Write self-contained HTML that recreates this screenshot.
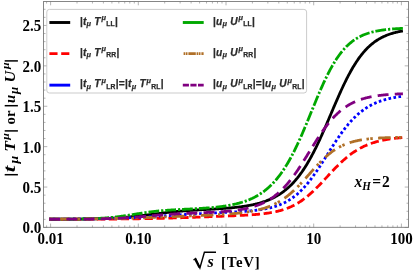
<!DOCTYPE html>
<html><head><meta charset="utf-8"><title>plot</title>
<style>
html,body{margin:0;padding:0;background:#fff;}
body{width:413px;height:271px;overflow:hidden;}
svg{display:block;will-change:transform;}
.tk{font-family:"Liberation Serif",serif;font-weight:bold;font-size:15px;fill:#000;}
.lg{font-family:"Liberation Sans",sans-serif;font-weight:bold;font-style:italic;font-size:10.2px;letter-spacing:0.22px;fill:#2a2a2a;stroke:#2a2a2a;stroke-width:0.25px;}
.lg .sb{font-style:normal;font-weight:bold;font-size:6.8px;}
.lg .mu{font-size:7.4px;}
.lg .up{font-style:normal;}
</style></head><body>
<svg width="413" height="271" viewBox="0 0 413 271">
<rect width="413" height="271" fill="#fff"/>

<g fill="none" stroke-width="2.8" stroke-linejoin="round">
<path d="M49.20,219.25 L49.91,219.25 L50.62,219.25 L51.33,219.24 L52.04,219.24 L52.74,219.24 L53.45,219.24 L54.16,219.24 L54.87,219.23 L55.58,219.23 L56.29,219.23 L57.00,219.23 L57.71,219.22 L58.41,219.22 L59.12,219.22 L59.83,219.21 L60.54,219.21 L61.25,219.21 L61.96,219.20 L62.67,219.20 L63.38,219.20 L64.09,219.19 L64.79,219.19 L65.50,219.19 L66.21,219.18 L66.92,219.18 L67.63,219.17 L68.34,219.17 L69.05,219.16 L69.76,219.16 L70.46,219.15 L71.17,219.15 L71.88,219.14 L72.59,219.14 L73.30,219.13 L74.01,219.12 L74.72,219.12 L75.43,219.11 L76.14,219.10 L76.84,219.10 L77.55,219.09 L78.26,219.08 L78.97,219.07 L79.68,219.07 L80.39,219.06 L81.10,219.05 L81.81,219.04 L82.51,219.03 L83.22,219.02 L83.93,219.01 L84.64,219.00 L85.35,218.99 L86.06,218.98 L86.77,218.97 L87.48,218.95 L88.18,218.94 L88.89,218.93 L89.60,218.92 L90.31,218.90 L91.02,218.89 L91.73,218.87 L92.44,218.86 L93.15,218.84 L93.86,218.83 L94.56,218.81 L95.27,218.79 L95.98,218.77 L96.69,218.76 L97.40,218.74 L98.11,218.72 L98.82,218.70 L99.53,218.68 L100.23,218.65 L100.94,218.63 L101.65,218.61 L102.36,218.59 L103.07,218.56 L103.78,218.54 L104.49,218.51 L105.20,218.48 L105.91,218.46 L106.61,218.43 L107.32,218.40 L108.03,218.37 L108.74,218.34 L109.45,218.30 L110.16,218.27 L110.87,218.24 L111.58,218.20 L112.28,218.17 L112.99,218.13 L113.70,218.09 L114.41,218.05 L115.12,218.01 L115.83,217.97 L116.54,217.93 L117.25,217.88 L117.96,217.84 L118.66,217.79 L119.37,217.74 L120.08,217.70 L120.79,217.65 L121.50,217.60 L122.21,217.54 L122.92,217.49 L123.63,217.44 L124.33,217.38 L125.04,217.32 L125.75,217.27 L126.46,217.21 L127.17,217.15 L127.88,217.08 L128.59,217.02 L129.30,216.96 L130.01,216.89 L130.71,216.82 L131.42,216.75 L132.13,216.68 L132.84,216.61 L133.55,216.54 L134.26,216.47 L134.97,216.40 L135.68,216.32 L136.38,216.24 L137.09,216.17 L137.80,216.09 L138.51,216.01 L139.22,215.93 L139.93,215.85 L140.64,215.76 L141.35,215.68 L142.06,215.60 L142.76,215.51 L143.47,215.43 L144.18,215.34 L144.89,215.25 L145.60,215.16 L146.31,215.08 L147.02,214.99 L147.73,214.90 L148.43,214.81 L149.14,214.72 L149.85,214.63 L150.56,214.54 L151.27,214.45 L151.98,214.36 L152.69,214.27 L153.40,214.18 L154.11,214.09 L154.81,214.00 L155.52,213.91 L156.23,213.82 L156.94,213.73 L157.65,213.64 L158.36,213.55 L159.07,213.46 L159.78,213.37 L160.48,213.28 L161.19,213.20 L161.90,213.11 L162.61,213.02 L163.32,212.94 L164.03,212.86 L164.74,212.77 L165.45,212.69 L166.15,212.61 L166.86,212.53 L167.57,212.45 L168.28,212.37 L168.99,212.29 L169.70,212.21 L170.41,212.14 L171.12,212.06 L171.83,211.99 L172.53,211.92 L173.24,211.84 L173.95,211.77 L174.66,211.70 L175.37,211.64 L176.08,211.57 L176.79,211.50 L177.50,211.44 L178.20,211.37 L178.91,211.31 L179.62,211.25 L180.33,211.19 L181.04,211.13 L181.75,211.07 L182.46,211.01 L183.17,210.95 L183.88,210.90 L184.58,210.84 L185.29,210.79 L186.00,210.73 L186.71,210.68 L187.42,210.63 L188.13,210.58 L188.84,210.53 L189.55,210.48 L190.25,210.43 L190.96,210.38 L191.67,210.34 L192.38,210.29 L193.09,210.25 L193.80,210.20 L194.51,210.16 L195.22,210.11 L195.93,210.07 L196.63,210.03 L197.34,209.99 L198.05,209.94 L198.76,209.90 L199.47,209.86 L200.18,209.82 L200.89,209.78 L201.60,209.74 L202.30,209.70 L203.01,209.66 L203.72,209.62 L204.43,209.58 L205.14,209.54 L205.85,209.50 L206.56,209.47 L207.27,209.43 L207.98,209.39 L208.68,209.35 L209.39,209.31 L210.10,209.27 L210.81,209.23 L211.52,209.19 L212.23,209.15 L212.94,209.11 L213.65,209.07 L214.35,209.03 L215.06,208.98 L215.77,208.94 L216.48,208.90 L217.19,208.86 L217.90,208.81 L218.61,208.77 L219.32,208.72 L220.03,208.68 L220.73,208.63 L221.44,208.58 L222.15,208.53 L222.86,208.49 L223.57,208.44 L224.28,208.38 L224.99,208.33 L225.70,208.28 L226.40,208.22 L227.11,208.17 L227.82,208.11 L228.53,208.05 L229.24,207.99 L229.95,207.93 L230.66,207.87 L231.37,207.80 L232.07,207.74 L232.78,207.67 L233.49,207.60 L234.20,207.53 L234.91,207.46 L235.62,207.38 L236.33,207.31 L237.04,207.23 L237.75,207.15 L238.45,207.06 L239.16,206.98 L239.87,206.89 L240.58,206.80 L241.29,206.70 L242.00,206.61 L242.71,206.51 L243.42,206.41 L244.12,206.30 L244.83,206.19 L245.54,206.08 L246.25,205.97 L246.96,205.85 L247.67,205.73 L248.38,205.61 L249.09,205.48 L249.80,205.35 L250.50,205.21 L251.21,205.07 L251.92,204.93 L252.63,204.78 L253.34,204.63 L254.05,204.47 L254.76,204.31 L255.47,204.14 L256.17,203.97 L256.88,203.79 L257.59,203.61 L258.30,203.42 L259.01,203.23 L259.72,203.03 L260.43,202.82 L261.14,202.61 L261.85,202.40 L262.55,202.17 L263.26,201.94 L263.97,201.70 L264.68,201.46 L265.39,201.21 L266.10,200.95 L266.81,200.68 L267.52,200.40 L268.22,200.12 L268.93,199.83 L269.64,199.53 L270.35,199.22 L271.06,198.90 L271.77,198.57 L272.48,198.23 L273.19,197.89 L273.90,197.53 L274.60,197.16 L275.31,196.78 L276.02,196.39 L276.73,195.99 L277.44,195.58 L278.15,195.16 L278.86,194.72 L279.57,194.27 L280.27,193.81 L280.98,193.34 L281.69,192.85 L282.40,192.35 L283.11,191.83 L283.82,191.30 L284.53,190.76 L285.24,190.20 L285.95,189.62 L286.65,189.03 L287.36,188.43 L288.07,187.80 L288.78,187.16 L289.49,186.51 L290.20,185.83 L290.91,185.14 L291.62,184.43 L292.32,183.71 L293.03,182.96 L293.74,182.20 L294.45,181.41 L295.16,180.61 L295.87,179.78 L296.58,178.94 L297.29,178.08 L297.99,177.19 L298.70,176.29 L299.41,175.36 L300.12,174.41 L300.83,173.45 L301.54,172.46 L302.25,171.44 L302.96,170.41 L303.67,169.35 L304.37,168.27 L305.08,167.17 L305.79,166.05 L306.50,164.90 L307.21,163.73 L307.92,162.54 L308.63,161.33 L309.34,160.09 L310.04,158.84 L310.75,157.56 L311.46,156.26 L312.17,154.93 L312.88,153.59 L313.59,152.23 L314.30,150.84 L315.01,149.43 L315.72,148.01 L316.42,146.56 L317.13,145.10 L317.84,143.62 L318.55,142.12 L319.26,140.60 L319.97,139.07 L320.68,137.52 L321.39,135.96 L322.09,134.39 L322.80,132.80 L323.51,131.20 L324.22,129.58 L324.93,127.96 L325.64,126.33 L326.35,124.69 L327.06,123.04 L327.77,121.38 L328.47,119.72 L329.18,118.06 L329.89,116.39 L330.60,114.73 L331.31,113.06 L332.02,111.39 L332.73,109.72 L333.44,108.06 L334.14,106.40 L334.85,104.75 L335.56,103.10 L336.27,101.46 L336.98,99.83 L337.69,98.21 L338.40,96.60 L339.11,95.00 L339.82,93.41 L340.52,91.84 L341.23,90.29 L341.94,88.75 L342.65,87.22 L343.36,85.72 L344.07,84.23 L344.78,82.76 L345.49,81.31 L346.19,79.88 L346.90,78.47 L347.61,77.09 L348.32,75.72 L349.03,74.38 L349.74,73.06 L350.45,71.77 L351.16,70.50 L351.87,69.25 L352.57,68.03 L353.28,66.84 L353.99,65.66 L354.70,64.52 L355.41,63.40 L356.12,62.30 L356.83,61.23 L357.54,60.18 L358.24,59.16 L358.95,58.16 L359.66,57.19 L360.37,56.24 L361.08,55.32 L361.79,54.42 L362.50,53.54 L363.21,52.69 L363.92,51.86 L364.62,51.05 L365.33,50.27 L366.04,49.51 L366.75,48.77 L367.46,48.05 L368.17,47.36 L368.88,46.68 L369.59,46.03 L370.29,45.39 L371.00,44.77 L371.71,44.18 L372.42,43.60 L373.13,43.04 L373.84,42.50 L374.55,41.97 L375.26,41.47 L375.96,40.98 L376.67,40.50 L377.38,40.04 L378.09,39.60 L378.80,39.17 L379.51,38.75 L380.22,38.35 L380.93,37.97 L381.64,37.59 L382.34,37.23 L383.05,36.88 L383.76,36.55 L384.47,36.22 L385.18,35.91 L385.89,35.61 L386.60,35.32 L387.31,35.04 L388.01,34.77 L388.72,34.51 L389.43,34.25 L390.14,34.01 L390.85,33.78 L391.56,33.55 L392.27,33.34 L392.98,33.13 L393.69,32.92 L394.39,32.73 L395.10,32.54 L395.81,32.36 L396.52,32.19 L397.23,32.02 L397.94,31.86 L398.65,31.71 L399.36,31.56 L400.06,31.42 L400.77,31.28 L401.48,31.14 L402.19,31.02 L402.90,30.89" stroke="#000000"/>
<path d="M49.20,219.26 L49.91,219.26 L50.62,219.26 L51.33,219.26 L52.04,219.26 L52.74,219.26 L53.45,219.26 L54.16,219.26 L54.87,219.25 L55.58,219.25 L56.29,219.25 L57.00,219.25 L57.71,219.25 L58.41,219.25 L59.12,219.25 L59.83,219.25 L60.54,219.25 L61.25,219.24 L61.96,219.24 L62.67,219.24 L63.38,219.24 L64.09,219.24 L64.79,219.24 L65.50,219.24 L66.21,219.24 L66.92,219.23 L67.63,219.23 L68.34,219.23 L69.05,219.23 L69.76,219.23 L70.46,219.23 L71.17,219.23 L71.88,219.22 L72.59,219.22 L73.30,219.22 L74.01,219.22 L74.72,219.22 L75.43,219.21 L76.14,219.21 L76.84,219.21 L77.55,219.21 L78.26,219.21 L78.97,219.20 L79.68,219.20 L80.39,219.20 L81.10,219.20 L81.81,219.20 L82.51,219.19 L83.22,219.19 L83.93,219.19 L84.64,219.19 L85.35,219.18 L86.06,219.18 L86.77,219.18 L87.48,219.18 L88.18,219.17 L88.89,219.17 L89.60,219.17 L90.31,219.16 L91.02,219.16 L91.73,219.16 L92.44,219.16 L93.15,219.15 L93.86,219.15 L94.56,219.15 L95.27,219.14 L95.98,219.14 L96.69,219.14 L97.40,219.13 L98.11,219.13 L98.82,219.13 L99.53,219.12 L100.23,219.12 L100.94,219.11 L101.65,219.11 L102.36,219.11 L103.07,219.10 L103.78,219.10 L104.49,219.09 L105.20,219.09 L105.91,219.08 L106.61,219.08 L107.32,219.07 L108.03,219.07 L108.74,219.06 L109.45,219.06 L110.16,219.05 L110.87,219.05 L111.58,219.04 L112.28,219.04 L112.99,219.03 L113.70,219.03 L114.41,219.02 L115.12,219.02 L115.83,219.01 L116.54,219.00 L117.25,219.00 L117.96,218.99 L118.66,218.98 L119.37,218.98 L120.08,218.97 L120.79,218.96 L121.50,218.96 L122.21,218.95 L122.92,218.94 L123.63,218.94 L124.33,218.93 L125.04,218.92 L125.75,218.91 L126.46,218.90 L127.17,218.90 L127.88,218.89 L128.59,218.88 L129.30,218.87 L130.01,218.86 L130.71,218.85 L131.42,218.84 L132.13,218.83 L132.84,218.83 L133.55,218.82 L134.26,218.81 L134.97,218.80 L135.68,218.79 L136.38,218.78 L137.09,218.77 L137.80,218.76 L138.51,218.74 L139.22,218.73 L139.93,218.72 L140.64,218.71 L141.35,218.70 L142.06,218.69 L142.76,218.68 L143.47,218.66 L144.18,218.65 L144.89,218.64 L145.60,218.63 L146.31,218.61 L147.02,218.60 L147.73,218.59 L148.43,218.57 L149.14,218.56 L149.85,218.55 L150.56,218.53 L151.27,218.52 L151.98,218.50 L152.69,218.49 L153.40,218.47 L154.11,218.46 L154.81,218.44 L155.52,218.43 L156.23,218.41 L156.94,218.40 L157.65,218.38 L158.36,218.36 L159.07,218.35 L159.78,218.33 L160.48,218.31 L161.19,218.30 L161.90,218.28 L162.61,218.26 L163.32,218.24 L164.03,218.22 L164.74,218.21 L165.45,218.19 L166.15,218.17 L166.86,218.15 L167.57,218.13 L168.28,218.11 L168.99,218.09 L169.70,218.07 L170.41,218.05 L171.12,218.03 L171.83,218.01 L172.53,217.99 L173.24,217.97 L173.95,217.95 L174.66,217.93 L175.37,217.91 L176.08,217.88 L176.79,217.86 L177.50,217.84 L178.20,217.82 L178.91,217.80 L179.62,217.77 L180.33,217.75 L181.04,217.73 L181.75,217.70 L182.46,217.68 L183.17,217.66 L183.88,217.63 L184.58,217.61 L185.29,217.59 L186.00,217.56 L186.71,217.54 L187.42,217.52 L188.13,217.49 L188.84,217.47 L189.55,217.44 L190.25,217.42 L190.96,217.39 L191.67,217.37 L192.38,217.34 L193.09,217.32 L193.80,217.29 L194.51,217.27 L195.22,217.24 L195.93,217.22 L196.63,217.19 L197.34,217.16 L198.05,217.14 L198.76,217.11 L199.47,217.09 L200.18,217.06 L200.89,217.03 L201.60,217.01 L202.30,216.98 L203.01,216.96 L203.72,216.93 L204.43,216.90 L205.14,216.88 L205.85,216.85 L206.56,216.82 L207.27,216.80 L207.98,216.77 L208.68,216.74 L209.39,216.72 L210.10,216.69 L210.81,216.66 L211.52,216.64 L212.23,216.61 L212.94,216.58 L213.65,216.56 L214.35,216.53 L215.06,216.50 L215.77,216.48 L216.48,216.45 L217.19,216.42 L217.90,216.39 L218.61,216.37 L219.32,216.34 L220.03,216.31 L220.73,216.28 L221.44,216.26 L222.15,216.23 L222.86,216.20 L223.57,216.17 L224.28,216.15 L224.99,216.12 L225.70,216.09 L226.40,216.06 L227.11,216.03 L227.82,216.00 L228.53,215.97 L229.24,215.95 L229.95,215.92 L230.66,215.89 L231.37,215.86 L232.07,215.83 L232.78,215.80 L233.49,215.77 L234.20,215.73 L234.91,215.70 L235.62,215.67 L236.33,215.64 L237.04,215.61 L237.75,215.57 L238.45,215.54 L239.16,215.51 L239.87,215.47 L240.58,215.44 L241.29,215.40 L242.00,215.36 L242.71,215.33 L243.42,215.29 L244.12,215.25 L244.83,215.21 L245.54,215.17 L246.25,215.13 L246.96,215.09 L247.67,215.05 L248.38,215.00 L249.09,214.96 L249.80,214.91 L250.50,214.86 L251.21,214.81 L251.92,214.76 L252.63,214.71 L253.34,214.66 L254.05,214.60 L254.76,214.55 L255.47,214.49 L256.17,214.43 L256.88,214.37 L257.59,214.31 L258.30,214.24 L259.01,214.17 L259.72,214.10 L260.43,214.03 L261.14,213.96 L261.85,213.88 L262.55,213.80 L263.26,213.72 L263.97,213.63 L264.68,213.54 L265.39,213.45 L266.10,213.36 L266.81,213.26 L267.52,213.16 L268.22,213.05 L268.93,212.95 L269.64,212.83 L270.35,212.72 L271.06,212.59 L271.77,212.47 L272.48,212.34 L273.19,212.20 L273.90,212.07 L274.60,211.92 L275.31,211.77 L276.02,211.62 L276.73,211.45 L277.44,211.29 L278.15,211.12 L278.86,210.94 L279.57,210.75 L280.27,210.56 L280.98,210.36 L281.69,210.16 L282.40,209.94 L283.11,209.72 L283.82,209.49 L284.53,209.26 L285.24,209.01 L285.95,208.76 L286.65,208.50 L287.36,208.23 L288.07,207.95 L288.78,207.67 L289.49,207.37 L290.20,207.06 L290.91,206.75 L291.62,206.42 L292.32,206.09 L293.03,205.74 L293.74,205.38 L294.45,205.02 L295.16,204.64 L295.87,204.25 L296.58,203.85 L297.29,203.44 L297.99,203.02 L298.70,202.58 L299.41,202.14 L300.12,201.68 L300.83,201.21 L301.54,200.73 L302.25,200.24 L302.96,199.73 L303.67,199.22 L304.37,198.69 L305.08,198.15 L305.79,197.60 L306.50,197.03 L307.21,196.46 L307.92,195.87 L308.63,195.28 L309.34,194.67 L310.04,194.05 L310.75,193.42 L311.46,192.78 L312.17,192.13 L312.88,191.47 L313.59,190.80 L314.30,190.13 L315.01,189.44 L315.72,188.74 L316.42,188.04 L317.13,187.33 L317.84,186.61 L318.55,185.89 L319.26,185.16 L319.97,184.42 L320.68,183.68 L321.39,182.93 L322.09,182.18 L322.80,181.42 L323.51,180.66 L324.22,179.90 L324.93,179.14 L325.64,178.38 L326.35,177.61 L327.06,176.85 L327.77,176.08 L328.47,175.32 L329.18,174.55 L329.89,173.79 L330.60,173.03 L331.31,172.28 L332.02,171.52 L332.73,170.77 L333.44,170.03 L334.14,169.29 L334.85,168.56 L335.56,167.83 L336.27,167.10 L336.98,166.39 L337.69,165.68 L338.40,164.98 L339.11,164.29 L339.82,163.60 L340.52,162.93 L341.23,162.26 L341.94,161.60 L342.65,160.95 L343.36,160.31 L344.07,159.68 L344.78,159.07 L345.49,158.46 L346.19,157.86 L346.90,157.27 L347.61,156.69 L348.32,156.12 L349.03,155.57 L349.74,155.02 L350.45,154.49 L351.16,153.97 L351.87,153.45 L352.57,152.95 L353.28,152.46 L353.99,151.98 L354.70,151.51 L355.41,151.05 L356.12,150.61 L356.83,150.17 L357.54,149.74 L358.24,149.33 L358.95,148.92 L359.66,148.53 L360.37,148.14 L361.08,147.77 L361.79,147.40 L362.50,147.04 L363.21,146.70 L363.92,146.36 L364.62,146.03 L365.33,145.72 L366.04,145.41 L366.75,145.10 L367.46,144.81 L368.17,144.53 L368.88,144.25 L369.59,143.98 L370.29,143.72 L371.00,143.47 L371.71,143.23 L372.42,142.99 L373.13,142.76 L373.84,142.54 L374.55,142.32 L375.26,142.11 L375.96,141.91 L376.67,141.71 L377.38,141.52 L378.09,141.33 L378.80,141.15 L379.51,140.98 L380.22,140.81 L380.93,140.65 L381.64,140.49 L382.34,140.34 L383.05,140.19 L383.76,140.05 L384.47,139.91 L385.18,139.78 L385.89,139.65 L386.60,139.52 L387.31,139.40 L388.01,139.29 L388.72,139.17 L389.43,139.07 L390.14,138.96 L390.85,138.86 L391.56,138.76 L392.27,138.66 L392.98,138.57 L393.69,138.48 L394.39,138.40 L395.10,138.31 L395.81,138.23 L396.52,138.16 L397.23,138.08 L397.94,138.01 L398.65,137.94 L399.36,137.87 L400.06,137.81 L400.77,137.74 L401.48,137.68 L402.19,137.63 L402.90,137.57" stroke="#ff0000" stroke-dasharray="8.3 3.62" stroke-dashoffset="0"/>
<path d="M49.20,219.17 L49.91,219.17 L50.62,219.16 L51.33,219.16 L52.04,219.16 L52.74,219.15 L53.45,219.15 L54.16,219.15 L54.87,219.14 L55.58,219.14 L56.29,219.13 L57.00,219.13 L57.71,219.13 L58.41,219.12 L59.12,219.12 L59.83,219.11 L60.54,219.11 L61.25,219.11 L61.96,219.10 L62.67,219.10 L63.38,219.09 L64.09,219.09 L64.79,219.08 L65.50,219.08 L66.21,219.07 L66.92,219.07 L67.63,219.06 L68.34,219.06 L69.05,219.05 L69.76,219.04 L70.46,219.04 L71.17,219.03 L71.88,219.03 L72.59,219.02 L73.30,219.01 L74.01,219.01 L74.72,219.00 L75.43,218.99 L76.14,218.99 L76.84,218.98 L77.55,218.97 L78.26,218.96 L78.97,218.96 L79.68,218.95 L80.39,218.94 L81.10,218.93 L81.81,218.92 L82.51,218.91 L83.22,218.91 L83.93,218.90 L84.64,218.89 L85.35,218.88 L86.06,218.87 L86.77,218.86 L87.48,218.85 L88.18,218.84 L88.89,218.83 L89.60,218.82 L90.31,218.81 L91.02,218.80 L91.73,218.78 L92.44,218.77 L93.15,218.76 L93.86,218.75 L94.56,218.74 L95.27,218.72 L95.98,218.71 L96.69,218.70 L97.40,218.69 L98.11,218.67 L98.82,218.66 L99.53,218.64 L100.23,218.63 L100.94,218.62 L101.65,218.60 L102.36,218.58 L103.07,218.57 L103.78,218.55 L104.49,218.54 L105.20,218.52 L105.91,218.50 L106.61,218.49 L107.32,218.47 L108.03,218.45 L108.74,218.43 L109.45,218.42 L110.16,218.40 L110.87,218.38 L111.58,218.36 L112.28,218.34 L112.99,218.32 L113.70,218.30 L114.41,218.28 L115.12,218.26 L115.83,218.23 L116.54,218.21 L117.25,218.19 L117.96,218.17 L118.66,218.14 L119.37,218.12 L120.08,218.10 L120.79,218.07 L121.50,218.05 L122.21,218.02 L122.92,218.00 L123.63,217.97 L124.33,217.94 L125.04,217.92 L125.75,217.89 L126.46,217.86 L127.17,217.84 L127.88,217.81 L128.59,217.78 L129.30,217.75 L130.01,217.72 L130.71,217.69 L131.42,217.66 L132.13,217.63 L132.84,217.60 L133.55,217.57 L134.26,217.53 L134.97,217.50 L135.68,217.47 L136.38,217.43 L137.09,217.40 L137.80,217.37 L138.51,217.33 L139.22,217.30 L139.93,217.26 L140.64,217.23 L141.35,217.19 L142.06,217.15 L142.76,217.12 L143.47,217.08 L144.18,217.04 L144.89,217.00 L145.60,216.96 L146.31,216.93 L147.02,216.89 L147.73,216.85 L148.43,216.81 L149.14,216.77 L149.85,216.73 L150.56,216.69 L151.27,216.64 L151.98,216.60 L152.69,216.56 L153.40,216.52 L154.11,216.48 L154.81,216.43 L155.52,216.39 L156.23,216.35 L156.94,216.30 L157.65,216.26 L158.36,216.22 L159.07,216.17 L159.78,216.13 L160.48,216.08 L161.19,216.04 L161.90,215.99 L162.61,215.95 L163.32,215.90 L164.03,215.86 L164.74,215.81 L165.45,215.77 L166.15,215.72 L166.86,215.68 L167.57,215.63 L168.28,215.58 L168.99,215.54 L169.70,215.49 L170.41,215.45 L171.12,215.40 L171.83,215.35 L172.53,215.31 L173.24,215.26 L173.95,215.22 L174.66,215.17 L175.37,215.13 L176.08,215.08 L176.79,215.03 L177.50,214.99 L178.20,214.94 L178.91,214.90 L179.62,214.85 L180.33,214.81 L181.04,214.76 L181.75,214.72 L182.46,214.67 L183.17,214.63 L183.88,214.58 L184.58,214.54 L185.29,214.49 L186.00,214.45 L186.71,214.41 L187.42,214.36 L188.13,214.32 L188.84,214.28 L189.55,214.23 L190.25,214.19 L190.96,214.15 L191.67,214.11 L192.38,214.07 L193.09,214.02 L193.80,213.98 L194.51,213.94 L195.22,213.90 L195.93,213.86 L196.63,213.82 L197.34,213.78 L198.05,213.74 L198.76,213.70 L199.47,213.66 L200.18,213.63 L200.89,213.59 L201.60,213.55 L202.30,213.51 L203.01,213.47 L203.72,213.44 L204.43,213.40 L205.14,213.36 L205.85,213.33 L206.56,213.29 L207.27,213.25 L207.98,213.22 L208.68,213.18 L209.39,213.15 L210.10,213.11 L210.81,213.08 L211.52,213.04 L212.23,213.01 L212.94,212.97 L213.65,212.94 L214.35,212.91 L215.06,212.87 L215.77,212.84 L216.48,212.81 L217.19,212.77 L217.90,212.74 L218.61,212.71 L219.32,212.67 L220.03,212.64 L220.73,212.61 L221.44,212.57 L222.15,212.54 L222.86,212.51 L223.57,212.47 L224.28,212.44 L224.99,212.41 L225.70,212.37 L226.40,212.34 L227.11,212.31 L227.82,212.27 L228.53,212.24 L229.24,212.20 L229.95,212.17 L230.66,212.13 L231.37,212.10 L232.07,212.06 L232.78,212.03 L233.49,211.99 L234.20,211.95 L234.91,211.91 L235.62,211.88 L236.33,211.84 L237.04,211.80 L237.75,211.76 L238.45,211.72 L239.16,211.67 L239.87,211.63 L240.58,211.59 L241.29,211.54 L242.00,211.50 L242.71,211.45 L243.42,211.40 L244.12,211.35 L244.83,211.30 L245.54,211.25 L246.25,211.20 L246.96,211.14 L247.67,211.08 L248.38,211.03 L249.09,210.97 L249.80,210.90 L250.50,210.84 L251.21,210.77 L251.92,210.71 L252.63,210.64 L253.34,210.56 L254.05,210.49 L254.76,210.41 L255.47,210.33 L256.17,210.25 L256.88,210.16 L257.59,210.07 L258.30,209.98 L259.01,209.89 L259.72,209.79 L260.43,209.69 L261.14,209.58 L261.85,209.47 L262.55,209.36 L263.26,209.24 L263.97,209.11 L264.68,208.99 L265.39,208.86 L266.10,208.72 L266.81,208.58 L267.52,208.43 L268.22,208.28 L268.93,208.12 L269.64,207.95 L270.35,207.78 L271.06,207.61 L271.77,207.42 L272.48,207.23 L273.19,207.03 L273.90,206.83 L274.60,206.62 L275.31,206.40 L276.02,206.17 L276.73,205.93 L277.44,205.69 L278.15,205.43 L278.86,205.17 L279.57,204.90 L280.27,204.61 L280.98,204.32 L281.69,204.02 L282.40,203.70 L283.11,203.38 L283.82,203.04 L284.53,202.69 L285.24,202.34 L285.95,201.96 L286.65,201.58 L287.36,201.18 L288.07,200.77 L288.78,200.35 L289.49,199.91 L290.20,199.46 L290.91,198.99 L291.62,198.51 L292.32,198.02 L293.03,197.51 L293.74,196.98 L294.45,196.44 L295.16,195.89 L295.87,195.31 L296.58,194.72 L297.29,194.12 L297.99,193.50 L298.70,192.86 L299.41,192.20 L300.12,191.53 L300.83,190.84 L301.54,190.13 L302.25,189.41 L302.96,188.67 L303.67,187.91 L304.37,187.13 L305.08,186.34 L305.79,185.53 L306.50,184.70 L307.21,183.86 L307.92,183.00 L308.63,182.12 L309.34,181.23 L310.04,180.32 L310.75,179.40 L311.46,178.46 L312.17,177.50 L312.88,176.53 L313.59,175.55 L314.30,174.55 L315.01,173.54 L315.72,172.52 L316.42,171.49 L317.13,170.44 L317.84,169.38 L318.55,168.32 L319.26,167.24 L319.97,166.16 L320.68,165.07 L321.39,163.97 L322.09,162.86 L322.80,161.75 L323.51,160.63 L324.22,159.51 L324.93,158.38 L325.64,157.26 L326.35,156.13 L327.06,155.00 L327.77,153.87 L328.47,152.74 L329.18,151.61 L329.89,150.48 L330.60,149.36 L331.31,148.24 L332.02,147.13 L332.73,146.02 L333.44,144.91 L334.14,143.82 L334.85,142.73 L335.56,141.65 L336.27,140.58 L336.98,139.52 L337.69,138.46 L338.40,137.42 L339.11,136.39 L339.82,135.38 L340.52,134.37 L341.23,133.38 L341.94,132.40 L342.65,131.43 L343.36,130.48 L344.07,129.54 L344.78,128.62 L345.49,127.71 L346.19,126.81 L346.90,125.93 L347.61,125.07 L348.32,124.22 L349.03,123.39 L349.74,122.58 L350.45,121.78 L351.16,120.99 L351.87,120.23 L352.57,119.47 L353.28,118.74 L353.99,118.02 L354.70,117.32 L355.41,116.63 L356.12,115.96 L356.83,115.30 L357.54,114.66 L358.24,114.03 L358.95,113.43 L359.66,112.83 L360.37,112.25 L361.08,111.69 L361.79,111.14 L362.50,110.60 L363.21,110.08 L363.92,109.57 L364.62,109.08 L365.33,108.60 L366.04,108.13 L366.75,107.68 L367.46,107.23 L368.17,106.81 L368.88,106.39 L369.59,105.98 L370.29,105.59 L371.00,105.21 L371.71,104.84 L372.42,104.48 L373.13,104.13 L373.84,103.79 L374.55,103.47 L375.26,103.15 L375.96,102.84 L376.67,102.54 L377.38,102.25 L378.09,101.97 L378.80,101.70 L379.51,101.44 L380.22,101.18 L380.93,100.94 L381.64,100.70 L382.34,100.47 L383.05,100.24 L383.76,100.03 L384.47,99.82 L385.18,99.61 L385.89,99.42 L386.60,99.23 L387.31,99.05 L388.01,98.87 L388.72,98.70 L389.43,98.53 L390.14,98.37 L390.85,98.22 L391.56,98.07 L392.27,97.92 L392.98,97.78 L393.69,97.65 L394.39,97.51 L395.10,97.39 L395.81,97.27 L396.52,97.15 L397.23,97.03 L397.94,96.92 L398.65,96.82 L399.36,96.72 L400.06,96.62 L400.77,96.52 L401.48,96.43 L402.19,96.34 L402.90,96.25" stroke="#0000ff" stroke-dasharray="2.65 2.4" stroke-dashoffset="1.45"/>
<path d="M49.20,219.26 L49.91,219.26 L50.62,219.25 L51.33,219.25 L52.04,219.25 L52.74,219.25 L53.45,219.25 L54.16,219.24 L54.87,219.24 L55.58,219.24 L56.29,219.24 L57.00,219.23 L57.71,219.23 L58.41,219.23 L59.12,219.22 L59.83,219.22 L60.54,219.21 L61.25,219.21 L61.96,219.21 L62.67,219.20 L63.38,219.20 L64.09,219.19 L64.79,219.19 L65.50,219.18 L66.21,219.18 L66.92,219.17 L67.63,219.17 L68.34,219.16 L69.05,219.15 L69.76,219.15 L70.46,219.14 L71.17,219.13 L71.88,219.13 L72.59,219.12 L73.30,219.11 L74.01,219.10 L74.72,219.09 L75.43,219.08 L76.14,219.07 L76.84,219.06 L77.55,219.05 L78.26,219.04 L78.97,219.03 L79.68,219.01 L80.39,219.00 L81.10,218.99 L81.81,218.97 L82.51,218.96 L83.22,218.94 L83.93,218.93 L84.64,218.91 L85.35,218.89 L86.06,218.88 L86.77,218.86 L87.48,218.84 L88.18,218.82 L88.89,218.79 L89.60,218.77 L90.31,218.75 L91.02,218.72 L91.73,218.70 L92.44,218.67 L93.15,218.65 L93.86,218.62 L94.56,218.59 L95.27,218.56 L95.98,218.52 L96.69,218.49 L97.40,218.46 L98.11,218.42 L98.82,218.38 L99.53,218.34 L100.23,218.30 L100.94,218.26 L101.65,218.22 L102.36,218.17 L103.07,218.13 L103.78,218.08 L104.49,218.03 L105.20,217.98 L105.91,217.92 L106.61,217.87 L107.32,217.81 L108.03,217.75 L108.74,217.69 L109.45,217.63 L110.16,217.57 L110.87,217.50 L111.58,217.43 L112.28,217.36 L112.99,217.29 L113.70,217.21 L114.41,217.14 L115.12,217.06 L115.83,216.98 L116.54,216.89 L117.25,216.81 L117.96,216.72 L118.66,216.63 L119.37,216.54 L120.08,216.45 L120.79,216.36 L121.50,216.26 L122.21,216.16 L122.92,216.06 L123.63,215.96 L124.33,215.86 L125.04,215.76 L125.75,215.65 L126.46,215.54 L127.17,215.44 L127.88,215.33 L128.59,215.22 L129.30,215.11 L130.01,214.99 L130.71,214.88 L131.42,214.77 L132.13,214.66 L132.84,214.54 L133.55,214.43 L134.26,214.31 L134.97,214.20 L135.68,214.08 L136.38,213.97 L137.09,213.86 L137.80,213.74 L138.51,213.63 L139.22,213.52 L139.93,213.41 L140.64,213.30 L141.35,213.19 L142.06,213.08 L142.76,212.97 L143.47,212.86 L144.18,212.76 L144.89,212.66 L145.60,212.55 L146.31,212.45 L147.02,212.35 L147.73,212.26 L148.43,212.16 L149.14,212.07 L149.85,211.98 L150.56,211.88 L151.27,211.80 L151.98,211.71 L152.69,211.62 L153.40,211.54 L154.11,211.46 L154.81,211.38 L155.52,211.30 L156.23,211.23 L156.94,211.15 L157.65,211.08 L158.36,211.01 L159.07,210.94 L159.78,210.87 L160.48,210.81 L161.19,210.74 L161.90,210.68 L162.61,210.62 L163.32,210.56 L164.03,210.50 L164.74,210.45 L165.45,210.39 L166.15,210.34 L166.86,210.29 L167.57,210.24 L168.28,210.19 L168.99,210.14 L169.70,210.09 L170.41,210.04 L171.12,210.00 L171.83,209.95 L172.53,209.91 L173.24,209.87 L173.95,209.83 L174.66,209.79 L175.37,209.75 L176.08,209.71 L176.79,209.67 L177.50,209.63 L178.20,209.59 L178.91,209.56 L179.62,209.52 L180.33,209.48 L181.04,209.45 L181.75,209.41 L182.46,209.38 L183.17,209.34 L183.88,209.31 L184.58,209.27 L185.29,209.24 L186.00,209.20 L186.71,209.17 L187.42,209.13 L188.13,209.10 L188.84,209.06 L189.55,209.03 L190.25,208.99 L190.96,208.96 L191.67,208.92 L192.38,208.88 L193.09,208.85 L193.80,208.81 L194.51,208.77 L195.22,208.73 L195.93,208.70 L196.63,208.66 L197.34,208.62 L198.05,208.58 L198.76,208.54 L199.47,208.49 L200.18,208.45 L200.89,208.41 L201.60,208.36 L202.30,208.32 L203.01,208.27 L203.72,208.22 L204.43,208.17 L205.14,208.13 L205.85,208.07 L206.56,208.02 L207.27,207.97 L207.98,207.91 L208.68,207.86 L209.39,207.80 L210.10,207.74 L210.81,207.68 L211.52,207.62 L212.23,207.55 L212.94,207.49 L213.65,207.42 L214.35,207.35 L215.06,207.28 L215.77,207.21 L216.48,207.13 L217.19,207.05 L217.90,206.97 L218.61,206.89 L219.32,206.81 L220.03,206.72 L220.73,206.63 L221.44,206.54 L222.15,206.44 L222.86,206.34 L223.57,206.24 L224.28,206.14 L224.99,206.03 L225.70,205.92 L226.40,205.81 L227.11,205.69 L227.82,205.58 L228.53,205.45 L229.24,205.32 L229.95,205.19 L230.66,205.06 L231.37,204.92 L232.07,204.78 L232.78,204.63 L233.49,204.48 L234.20,204.32 L234.91,204.16 L235.62,204.00 L236.33,203.83 L237.04,203.65 L237.75,203.47 L238.45,203.28 L239.16,203.09 L239.87,202.89 L240.58,202.69 L241.29,202.48 L242.00,202.27 L242.71,202.04 L243.42,201.81 L244.12,201.58 L244.83,201.34 L245.54,201.09 L246.25,200.83 L246.96,200.56 L247.67,200.29 L248.38,200.01 L249.09,199.72 L249.80,199.42 L250.50,199.12 L251.21,198.80 L251.92,198.48 L252.63,198.14 L253.34,197.80 L254.05,197.45 L254.76,197.08 L255.47,196.71 L256.17,196.32 L256.88,195.92 L257.59,195.52 L258.30,195.10 L259.01,194.66 L259.72,194.22 L260.43,193.76 L261.14,193.29 L261.85,192.81 L262.55,192.31 L263.26,191.80 L263.97,191.28 L264.68,190.74 L265.39,190.18 L266.10,189.61 L266.81,189.03 L267.52,188.43 L268.22,187.81 L268.93,187.17 L269.64,186.52 L270.35,185.85 L271.06,185.16 L271.77,184.46 L272.48,183.74 L273.19,182.99 L273.90,182.23 L274.60,181.45 L275.31,180.65 L276.02,179.83 L276.73,178.99 L277.44,178.12 L278.15,177.24 L278.86,176.33 L279.57,175.41 L280.27,174.46 L280.98,173.49 L281.69,172.49 L282.40,171.48 L283.11,170.44 L283.82,169.37 L284.53,168.29 L285.24,167.18 L285.95,166.04 L286.65,164.89 L287.36,163.71 L288.07,162.50 L288.78,161.27 L289.49,160.02 L290.20,158.75 L290.91,157.45 L291.62,156.12 L292.32,154.78 L293.03,153.41 L293.74,152.02 L294.45,150.60 L295.16,149.17 L295.87,147.71 L296.58,146.23 L297.29,144.73 L297.99,143.21 L298.70,141.67 L299.41,140.11 L300.12,138.54 L300.83,136.94 L301.54,135.33 L302.25,133.70 L302.96,132.06 L303.67,130.41 L304.37,128.74 L305.08,127.06 L305.79,125.37 L306.50,123.67 L307.21,121.96 L307.92,120.24 L308.63,118.52 L309.34,116.79 L310.04,115.06 L310.75,113.32 L311.46,111.59 L312.17,109.85 L312.88,108.12 L313.59,106.39 L314.30,104.66 L315.01,102.94 L315.72,101.23 L316.42,99.52 L317.13,97.82 L317.84,96.14 L318.55,94.47 L319.26,92.81 L319.97,91.16 L320.68,89.53 L321.39,87.92 L322.09,86.32 L322.80,84.75 L323.51,83.19 L324.22,81.65 L324.93,80.14 L325.64,78.65 L326.35,77.18 L327.06,75.74 L327.77,74.32 L328.47,72.92 L329.18,71.55 L329.89,70.21 L330.60,68.89 L331.31,67.60 L332.02,66.34 L332.73,65.10 L333.44,63.90 L334.14,62.72 L334.85,61.56 L335.56,60.44 L336.27,59.34 L336.98,58.27 L337.69,57.23 L338.40,56.22 L339.11,55.23 L339.82,54.27 L340.52,53.34 L341.23,52.43 L341.94,51.55 L342.65,50.70 L343.36,49.87 L344.07,49.07 L344.78,48.29 L345.49,47.53 L346.19,46.80 L346.90,46.09 L347.61,45.41 L348.32,44.74 L349.03,44.10 L349.74,43.48 L350.45,42.89 L351.16,42.31 L351.87,41.75 L352.57,41.21 L353.28,40.69 L353.99,40.18 L354.70,39.70 L355.41,39.23 L356.12,38.78 L356.83,38.35 L357.54,37.93 L358.24,37.53 L358.95,37.14 L359.66,36.76 L360.37,36.40 L361.08,36.06 L361.79,35.72 L362.50,35.40 L363.21,35.09 L363.92,34.79 L364.62,34.51 L365.33,34.23 L366.04,33.97 L366.75,33.72 L367.46,33.47 L368.17,33.24 L368.88,33.01 L369.59,32.80 L370.29,32.59 L371.00,32.39 L371.71,32.20 L372.42,32.01 L373.13,31.83 L373.84,31.66 L374.55,31.50 L375.26,31.34 L375.96,31.19 L376.67,31.05 L377.38,30.91 L378.09,30.78 L378.80,30.65 L379.51,30.53 L380.22,30.41 L380.93,30.30 L381.64,30.19 L382.34,30.09 L383.05,29.99 L383.76,29.89 L384.47,29.80 L385.18,29.71 L385.89,29.63 L386.60,29.55 L387.31,29.47 L388.01,29.40 L388.72,29.33 L389.43,29.26 L390.14,29.19 L390.85,29.13 L391.56,29.07 L392.27,29.01 L392.98,28.96 L393.69,28.90 L394.39,28.85 L395.10,28.81 L395.81,28.76 L396.52,28.71 L397.23,28.67 L397.94,28.63 L398.65,28.59 L399.36,28.55 L400.06,28.52 L400.77,28.48 L401.48,28.45 L402.19,28.42 L402.90,28.39" stroke="#00a800" stroke-dasharray="10.8 1.95 2.2 1.91" stroke-dashoffset="1.45"/>
<path d="M49.20,219.17 L49.91,219.17 L50.62,219.16 L51.33,219.16 L52.04,219.16 L52.74,219.15 L53.45,219.15 L54.16,219.15 L54.87,219.14 L55.58,219.14 L56.29,219.14 L57.00,219.13 L57.71,219.13 L58.41,219.13 L59.12,219.12 L59.83,219.12 L60.54,219.12 L61.25,219.11 L61.96,219.11 L62.67,219.11 L63.38,219.10 L64.09,219.10 L64.79,219.09 L65.50,219.09 L66.21,219.08 L66.92,219.08 L67.63,219.08 L68.34,219.07 L69.05,219.07 L69.76,219.06 L70.46,219.06 L71.17,219.05 L71.88,219.05 L72.59,219.04 L73.30,219.04 L74.01,219.03 L74.72,219.03 L75.43,219.02 L76.14,219.01 L76.84,219.01 L77.55,219.00 L78.26,219.00 L78.97,218.99 L79.68,218.98 L80.39,218.98 L81.10,218.97 L81.81,218.96 L82.51,218.96 L83.22,218.95 L83.93,218.94 L84.64,218.94 L85.35,218.93 L86.06,218.92 L86.77,218.91 L87.48,218.91 L88.18,218.90 L88.89,218.89 L89.60,218.88 L90.31,218.88 L91.02,218.87 L91.73,218.86 L92.44,218.85 L93.15,218.84 L93.86,218.83 L94.56,218.82 L95.27,218.81 L95.98,218.80 L96.69,218.79 L97.40,218.78 L98.11,218.78 L98.82,218.77 L99.53,218.75 L100.23,218.74 L100.94,218.73 L101.65,218.72 L102.36,218.71 L103.07,218.70 L103.78,218.69 L104.49,218.68 L105.20,218.67 L105.91,218.65 L106.61,218.64 L107.32,218.63 L108.03,218.62 L108.74,218.61 L109.45,218.59 L110.16,218.58 L110.87,218.57 L111.58,218.55 L112.28,218.54 L112.99,218.53 L113.70,218.51 L114.41,218.50 L115.12,218.48 L115.83,218.47 L116.54,218.45 L117.25,218.44 L117.96,218.42 L118.66,218.41 L119.37,218.39 L120.08,218.38 L120.79,218.36 L121.50,218.34 L122.21,218.33 L122.92,218.31 L123.63,218.29 L124.33,218.28 L125.04,218.26 L125.75,218.24 L126.46,218.22 L127.17,218.21 L127.88,218.19 L128.59,218.17 L129.30,218.15 L130.01,218.13 L130.71,218.11 L131.42,218.09 L132.13,218.07 L132.84,218.05 L133.55,218.03 L134.26,218.01 L134.97,217.99 L135.68,217.97 L136.38,217.95 L137.09,217.93 L137.80,217.91 L138.51,217.89 L139.22,217.86 L139.93,217.84 L140.64,217.82 L141.35,217.80 L142.06,217.78 L142.76,217.75 L143.47,217.73 L144.18,217.71 L144.89,217.68 L145.60,217.66 L146.31,217.64 L147.02,217.61 L147.73,217.59 L148.43,217.56 L149.14,217.54 L149.85,217.52 L150.56,217.49 L151.27,217.47 L151.98,217.44 L152.69,217.42 L153.40,217.39 L154.11,217.37 L154.81,217.34 L155.52,217.31 L156.23,217.29 L156.94,217.26 L157.65,217.24 L158.36,217.21 L159.07,217.18 L159.78,217.16 L160.48,217.13 L161.19,217.10 L161.90,217.08 L162.61,217.05 L163.32,217.02 L164.03,217.00 L164.74,216.97 L165.45,216.94 L166.15,216.91 L166.86,216.89 L167.57,216.86 L168.28,216.83 L168.99,216.80 L169.70,216.77 L170.41,216.75 L171.12,216.72 L171.83,216.69 L172.53,216.66 L173.24,216.63 L173.95,216.61 L174.66,216.58 L175.37,216.55 L176.08,216.52 L176.79,216.49 L177.50,216.47 L178.20,216.44 L178.91,216.41 L179.62,216.38 L180.33,216.35 L181.04,216.32 L181.75,216.29 L182.46,216.27 L183.17,216.24 L183.88,216.21 L184.58,216.18 L185.29,216.15 L186.00,216.12 L186.71,216.09 L187.42,216.06 L188.13,216.03 L188.84,216.01 L189.55,215.98 L190.25,215.95 L190.96,215.92 L191.67,215.89 L192.38,215.86 L193.09,215.83 L193.80,215.80 L194.51,215.77 L195.22,215.74 L195.93,215.71 L196.63,215.68 L197.34,215.65 L198.05,215.62 L198.76,215.59 L199.47,215.56 L200.18,215.53 L200.89,215.50 L201.60,215.47 L202.30,215.44 L203.01,215.41 L203.72,215.38 L204.43,215.35 L205.14,215.31 L205.85,215.28 L206.56,215.25 L207.27,215.22 L207.98,215.18 L208.68,215.15 L209.39,215.12 L210.10,215.08 L210.81,215.05 L211.52,215.02 L212.23,214.98 L212.94,214.95 L213.65,214.91 L214.35,214.87 L215.06,214.84 L215.77,214.80 L216.48,214.76 L217.19,214.72 L217.90,214.69 L218.61,214.65 L219.32,214.61 L220.03,214.57 L220.73,214.52 L221.44,214.48 L222.15,214.44 L222.86,214.39 L223.57,214.35 L224.28,214.30 L224.99,214.26 L225.70,214.21 L226.40,214.16 L227.11,214.11 L227.82,214.06 L228.53,214.01 L229.24,213.96 L229.95,213.90 L230.66,213.85 L231.37,213.79 L232.07,213.73 L232.78,213.67 L233.49,213.61 L234.20,213.55 L234.91,213.48 L235.62,213.41 L236.33,213.35 L237.04,213.28 L237.75,213.20 L238.45,213.13 L239.16,213.05 L239.87,212.98 L240.58,212.90 L241.29,212.81 L242.00,212.73 L242.71,212.64 L243.42,212.55 L244.12,212.46 L244.83,212.36 L245.54,212.26 L246.25,212.16 L246.96,212.06 L247.67,211.95 L248.38,211.84 L249.09,211.72 L249.80,211.60 L250.50,211.48 L251.21,211.36 L251.92,211.23 L252.63,211.09 L253.34,210.96 L254.05,210.81 L254.76,210.67 L255.47,210.52 L256.17,210.36 L256.88,210.20 L257.59,210.03 L258.30,209.86 L259.01,209.68 L259.72,209.50 L260.43,209.31 L261.14,209.12 L261.85,208.92 L262.55,208.71 L263.26,208.50 L263.97,208.28 L264.68,208.06 L265.39,207.82 L266.10,207.58 L266.81,207.33 L267.52,207.08 L268.22,206.82 L268.93,206.54 L269.64,206.26 L270.35,205.98 L271.06,205.68 L271.77,205.38 L272.48,205.06 L273.19,204.74 L273.90,204.40 L274.60,204.06 L275.31,203.71 L276.02,203.35 L276.73,202.97 L277.44,202.59 L278.15,202.20 L278.86,201.79 L279.57,201.38 L280.27,200.95 L280.98,200.51 L281.69,200.06 L282.40,199.60 L283.11,199.13 L283.82,198.64 L284.53,198.15 L285.24,197.64 L285.95,197.12 L286.65,196.59 L287.36,196.04 L288.07,195.48 L288.78,194.92 L289.49,194.33 L290.20,193.74 L290.91,193.14 L291.62,192.52 L292.32,191.89 L293.03,191.25 L293.74,190.60 L294.45,189.94 L295.16,189.26 L295.87,188.58 L296.58,187.88 L297.29,187.18 L297.99,186.46 L298.70,185.74 L299.41,185.00 L300.12,184.26 L300.83,183.51 L301.54,182.75 L302.25,181.99 L302.96,181.21 L303.67,180.44 L304.37,179.65 L305.08,178.87 L305.79,178.07 L306.50,177.28 L307.21,176.48 L307.92,175.68 L308.63,174.88 L309.34,174.07 L310.04,173.27 L310.75,172.47 L311.46,171.67 L312.17,170.87 L312.88,170.07 L313.59,169.28 L314.30,168.49 L315.01,167.70 L315.72,166.92 L316.42,166.15 L317.13,165.39 L317.84,164.63 L318.55,163.88 L319.26,163.14 L319.97,162.40 L320.68,161.68 L321.39,160.97 L322.09,160.27 L322.80,159.57 L323.51,158.89 L324.22,158.23 L324.93,157.57 L325.64,156.93 L326.35,156.30 L327.06,155.68 L327.77,155.07 L328.47,154.48 L329.18,153.90 L329.89,153.34 L330.60,152.78 L331.31,152.24 L332.02,151.72 L332.73,151.21 L333.44,150.71 L334.14,150.23 L334.85,149.76 L335.56,149.30 L336.27,148.85 L336.98,148.42 L337.69,148.01 L338.40,147.60 L339.11,147.21 L339.82,146.83 L340.52,146.46 L341.23,146.10 L341.94,145.75 L342.65,145.42 L343.36,145.10 L344.07,144.79 L344.78,144.49 L345.49,144.20 L346.19,143.92 L346.90,143.65 L347.61,143.38 L348.32,143.13 L349.03,142.89 L349.74,142.66 L350.45,142.43 L351.16,142.22 L351.87,142.01 L352.57,141.81 L353.28,141.62 L353.99,141.43 L354.70,141.25 L355.41,141.08 L356.12,140.92 L356.83,140.76 L357.54,140.61 L358.24,140.46 L358.95,140.32 L359.66,140.19 L360.37,140.06 L361.08,139.93 L361.79,139.82 L362.50,139.70 L363.21,139.59 L363.92,139.49 L364.62,139.39 L365.33,139.29 L366.04,139.20 L366.75,139.11 L367.46,139.02 L368.17,138.94 L368.88,138.86 L369.59,138.79 L370.29,138.72 L371.00,138.65 L371.71,138.58 L372.42,138.52 L373.13,138.46 L373.84,138.40 L374.55,138.34 L375.26,138.29 L375.96,138.24 L376.67,138.19 L377.38,138.15 L378.09,138.10 L378.80,138.06 L379.51,138.02 L380.22,137.98 L380.93,137.94 L381.64,137.90 L382.34,137.87 L383.05,137.84 L383.76,137.81 L384.47,137.78 L385.18,137.75 L385.89,137.72 L386.60,137.69 L387.31,137.67 L388.01,137.64 L388.72,137.62 L389.43,137.60 L390.14,137.58 L390.85,137.56 L391.56,137.54 L392.27,137.52 L392.98,137.50 L393.69,137.48 L394.39,137.47 L395.10,137.45 L395.81,137.44 L396.52,137.42 L397.23,137.41 L397.94,137.40 L398.65,137.38 L399.36,137.37 L400.06,137.36 L400.77,137.35 L401.48,137.34 L402.19,137.33 L402.90,137.32" stroke="#b07028" stroke-dasharray="12.6 4.6 2.5 1.3 2.5 5.37" stroke-dashoffset="21.53"/>
<path d="M49.20,219.27 L49.91,219.27 L50.62,219.27 L51.33,219.27 L52.04,219.26 L52.74,219.26 L53.45,219.26 L54.16,219.26 L54.87,219.26 L55.58,219.26 L56.29,219.26 L57.00,219.25 L57.71,219.25 L58.41,219.25 L59.12,219.25 L59.83,219.25 L60.54,219.24 L61.25,219.24 L61.96,219.24 L62.67,219.24 L63.38,219.24 L64.09,219.23 L64.79,219.23 L65.50,219.23 L66.21,219.22 L66.92,219.22 L67.63,219.22 L68.34,219.22 L69.05,219.21 L69.76,219.21 L70.46,219.21 L71.17,219.20 L71.88,219.20 L72.59,219.19 L73.30,219.19 L74.01,219.19 L74.72,219.18 L75.43,219.18 L76.14,219.17 L76.84,219.17 L77.55,219.16 L78.26,219.16 L78.97,219.15 L79.68,219.15 L80.39,219.14 L81.10,219.13 L81.81,219.13 L82.51,219.12 L83.22,219.11 L83.93,219.11 L84.64,219.10 L85.35,219.09 L86.06,219.08 L86.77,219.08 L87.48,219.07 L88.18,219.06 L88.89,219.05 L89.60,219.04 L90.31,219.03 L91.02,219.02 L91.73,219.01 L92.44,219.00 L93.15,218.99 L93.86,218.98 L94.56,218.96 L95.27,218.95 L95.98,218.94 L96.69,218.93 L97.40,218.91 L98.11,218.90 L98.82,218.88 L99.53,218.87 L100.23,218.85 L100.94,218.84 L101.65,218.82 L102.36,218.80 L103.07,218.78 L103.78,218.77 L104.49,218.75 L105.20,218.73 L105.91,218.71 L106.61,218.69 L107.32,218.66 L108.03,218.64 L108.74,218.62 L109.45,218.59 L110.16,218.57 L110.87,218.54 L111.58,218.52 L112.28,218.49 L112.99,218.46 L113.70,218.44 L114.41,218.41 L115.12,218.38 L115.83,218.35 L116.54,218.31 L117.25,218.28 L117.96,218.25 L118.66,218.21 L119.37,218.18 L120.08,218.14 L120.79,218.10 L121.50,218.07 L122.21,218.03 L122.92,217.99 L123.63,217.95 L124.33,217.91 L125.04,217.86 L125.75,217.82 L126.46,217.78 L127.17,217.73 L127.88,217.68 L128.59,217.64 L129.30,217.59 L130.01,217.54 L130.71,217.49 L131.42,217.44 L132.13,217.39 L132.84,217.33 L133.55,217.28 L134.26,217.23 L134.97,217.17 L135.68,217.12 L136.38,217.06 L137.09,217.00 L137.80,216.95 L138.51,216.89 L139.22,216.83 L139.93,216.77 L140.64,216.71 L141.35,216.65 L142.06,216.59 L142.76,216.53 L143.47,216.47 L144.18,216.40 L144.89,216.34 L145.60,216.28 L146.31,216.22 L147.02,216.15 L147.73,216.09 L148.43,216.03 L149.14,215.96 L149.85,215.90 L150.56,215.84 L151.27,215.78 L151.98,215.71 L152.69,215.65 L153.40,215.59 L154.11,215.53 L154.81,215.46 L155.52,215.40 L156.23,215.34 L156.94,215.28 L157.65,215.22 L158.36,215.16 L159.07,215.10 L159.78,215.04 L160.48,214.99 L161.19,214.93 L161.90,214.87 L162.61,214.81 L163.32,214.76 L164.03,214.70 L164.74,214.65 L165.45,214.60 L166.15,214.54 L166.86,214.49 L167.57,214.44 L168.28,214.39 L168.99,214.34 L169.70,214.29 L170.41,214.25 L171.12,214.20 L171.83,214.15 L172.53,214.11 L173.24,214.06 L173.95,214.02 L174.66,213.97 L175.37,213.93 L176.08,213.89 L176.79,213.85 L177.50,213.81 L178.20,213.77 L178.91,213.73 L179.62,213.69 L180.33,213.66 L181.04,213.62 L181.75,213.58 L182.46,213.55 L183.17,213.51 L183.88,213.48 L184.58,213.44 L185.29,213.41 L186.00,213.38 L186.71,213.35 L187.42,213.31 L188.13,213.28 L188.84,213.25 L189.55,213.22 L190.25,213.19 L190.96,213.16 L191.67,213.13 L192.38,213.10 L193.09,213.07 L193.80,213.04 L194.51,213.01 L195.22,212.98 L195.93,212.96 L196.63,212.93 L197.34,212.90 L198.05,212.87 L198.76,212.84 L199.47,212.81 L200.18,212.78 L200.89,212.76 L201.60,212.73 L202.30,212.70 L203.01,212.67 L203.72,212.64 L204.43,212.61 L205.14,212.58 L205.85,212.55 L206.56,212.52 L207.27,212.49 L207.98,212.46 L208.68,212.42 L209.39,212.39 L210.10,212.36 L210.81,212.32 L211.52,212.29 L212.23,212.25 L212.94,212.22 L213.65,212.18 L214.35,212.14 L215.06,212.11 L215.77,212.07 L216.48,212.03 L217.19,211.98 L217.90,211.94 L218.61,211.90 L219.32,211.85 L220.03,211.81 L220.73,211.76 L221.44,211.71 L222.15,211.66 L222.86,211.61 L223.57,211.56 L224.28,211.50 L224.99,211.44 L225.70,211.39 L226.40,211.33 L227.11,211.26 L227.82,211.20 L228.53,211.13 L229.24,211.07 L229.95,211.00 L230.66,210.92 L231.37,210.85 L232.07,210.77 L232.78,210.69 L233.49,210.61 L234.20,210.52 L234.91,210.43 L235.62,210.34 L236.33,210.25 L237.04,210.15 L237.75,210.05 L238.45,209.94 L239.16,209.83 L239.87,209.72 L240.58,209.61 L241.29,209.49 L242.00,209.36 L242.71,209.24 L243.42,209.10 L244.12,208.97 L244.83,208.82 L245.54,208.68 L246.25,208.53 L246.96,208.37 L247.67,208.21 L248.38,208.04 L249.09,207.87 L249.80,207.69 L250.50,207.50 L251.21,207.31 L251.92,207.12 L252.63,206.91 L253.34,206.70 L254.05,206.48 L254.76,206.26 L255.47,206.03 L256.17,205.78 L256.88,205.54 L257.59,205.28 L258.30,205.01 L259.01,204.74 L259.72,204.46 L260.43,204.17 L261.14,203.87 L261.85,203.56 L262.55,203.24 L263.26,202.90 L263.97,202.56 L264.68,202.21 L265.39,201.85 L266.10,201.48 L266.81,201.09 L267.52,200.69 L268.22,200.28 L268.93,199.86 L269.64,199.43 L270.35,198.98 L271.06,198.52 L271.77,198.05 L272.48,197.56 L273.19,197.06 L273.90,196.55 L274.60,196.02 L275.31,195.47 L276.02,194.91 L276.73,194.34 L277.44,193.75 L278.15,193.15 L278.86,192.53 L279.57,191.89 L280.27,191.24 L280.98,190.57 L281.69,189.88 L282.40,189.18 L283.11,188.47 L283.82,187.73 L284.53,186.98 L285.24,186.21 L285.95,185.43 L286.65,184.63 L287.36,183.81 L288.07,182.98 L288.78,182.13 L289.49,181.26 L290.20,180.38 L290.91,179.48 L291.62,178.56 L292.32,177.63 L293.03,176.69 L293.74,175.72 L294.45,174.75 L295.16,173.76 L295.87,172.76 L296.58,171.74 L297.29,170.71 L297.99,169.67 L298.70,168.61 L299.41,167.54 L300.12,166.47 L300.83,165.38 L301.54,164.29 L302.25,163.18 L302.96,162.07 L303.67,160.95 L304.37,159.82 L305.08,158.69 L305.79,157.55 L306.50,156.41 L307.21,155.26 L307.92,154.11 L308.63,152.96 L309.34,151.81 L310.04,150.66 L310.75,149.51 L311.46,148.37 L312.17,147.22 L312.88,146.08 L313.59,144.94 L314.30,143.81 L315.01,142.68 L315.72,141.56 L316.42,140.45 L317.13,139.35 L317.84,138.25 L318.55,137.17 L319.26,136.09 L319.97,135.03 L320.68,133.98 L321.39,132.94 L322.09,131.91 L322.80,130.90 L323.51,129.90 L324.22,128.91 L324.93,127.94 L325.64,126.99 L326.35,126.05 L327.06,125.13 L327.77,124.22 L328.47,123.33 L329.18,122.45 L329.89,121.60 L330.60,120.76 L331.31,119.93 L332.02,119.13 L332.73,118.34 L333.44,117.57 L334.14,116.82 L334.85,116.08 L335.56,115.36 L336.27,114.66 L336.98,113.97 L337.69,113.31 L338.40,112.66 L339.11,112.02 L339.82,111.41 L340.52,110.81 L341.23,110.22 L341.94,109.65 L342.65,109.10 L343.36,108.56 L344.07,108.04 L344.78,107.53 L345.49,107.04 L346.19,106.57 L346.90,106.10 L347.61,105.65 L348.32,105.22 L349.03,104.80 L349.74,104.39 L350.45,103.99 L351.16,103.61 L351.87,103.24 L352.57,102.88 L353.28,102.53 L353.99,102.19 L354.70,101.87 L355.41,101.55 L356.12,101.25 L356.83,100.96 L357.54,100.67 L358.24,100.40 L358.95,100.13 L359.66,99.88 L360.37,99.63 L361.08,99.39 L361.79,99.16 L362.50,98.94 L363.21,98.72 L363.92,98.51 L364.62,98.31 L365.33,98.12 L366.04,97.94 L366.75,97.76 L367.46,97.58 L368.17,97.42 L368.88,97.26 L369.59,97.10 L370.29,96.95 L371.00,96.81 L371.71,96.67 L372.42,96.53 L373.13,96.41 L373.84,96.28 L374.55,96.16 L375.26,96.05 L375.96,95.94 L376.67,95.83 L377.38,95.73 L378.09,95.63 L378.80,95.53 L379.51,95.44 L380.22,95.35 L380.93,95.27 L381.64,95.19 L382.34,95.11 L383.05,95.03 L383.76,94.96 L384.47,94.89 L385.18,94.82 L385.89,94.76 L386.60,94.69 L387.31,94.63 L388.01,94.57 L388.72,94.52 L389.43,94.47 L390.14,94.41 L390.85,94.36 L391.56,94.32 L392.27,94.27 L392.98,94.23 L393.69,94.18 L394.39,94.14 L395.10,94.10 L395.81,94.07 L396.52,94.03 L397.23,93.99 L397.94,93.96 L398.65,93.93 L399.36,93.90 L400.06,93.87 L400.77,93.84 L401.48,93.81 L402.19,93.78 L402.90,93.76" stroke="#800080" stroke-dasharray="10.95 6.22" stroke-dashoffset="0"/>
</g>
<g stroke="#868686" stroke-width="1" fill="none">
<rect x="43.5" y="1.5" width="365.0" height="225.85"/>
<path d="M50.60,227.35 v-3.8 M50.60,1.5 v3.8 M77.00,227.35 v-2.0 M77.00,1.5 v2.0 M92.44,227.35 v-2.0 M92.44,1.5 v2.0 M103.40,227.35 v-2.0 M103.40,1.5 v2.0 M111.90,227.35 v-2.0 M111.90,1.5 v2.0 M118.84,227.35 v-2.0 M118.84,1.5 v2.0 M124.72,227.35 v-2.0 M124.72,1.5 v2.0 M129.80,227.35 v-2.0 M129.80,1.5 v2.0 M134.29,227.35 v-2.0 M134.29,1.5 v2.0 M138.30,227.35 v-3.8 M138.30,1.5 v3.8 M164.70,227.35 v-2.0 M164.70,1.5 v2.0 M180.14,227.35 v-2.0 M180.14,1.5 v2.0 M191.10,227.35 v-2.0 M191.10,1.5 v2.0 M199.60,227.35 v-2.0 M199.60,1.5 v2.0 M206.54,227.35 v-2.0 M206.54,1.5 v2.0 M212.42,227.35 v-2.0 M212.42,1.5 v2.0 M217.50,227.35 v-2.0 M217.50,1.5 v2.0 M221.99,227.35 v-2.0 M221.99,1.5 v2.0 M226.00,227.35 v-3.8 M226.00,1.5 v3.8 M252.40,227.35 v-2.0 M252.40,1.5 v2.0 M267.84,227.35 v-2.0 M267.84,1.5 v2.0 M278.80,227.35 v-2.0 M278.80,1.5 v2.0 M287.30,227.35 v-2.0 M287.30,1.5 v2.0 M294.24,227.35 v-2.0 M294.24,1.5 v2.0 M300.12,227.35 v-2.0 M300.12,1.5 v2.0 M305.20,227.35 v-2.0 M305.20,1.5 v2.0 M309.69,227.35 v-2.0 M309.69,1.5 v2.0 M313.70,227.35 v-3.8 M313.70,1.5 v3.8 M340.10,227.35 v-2.0 M340.10,1.5 v2.0 M355.54,227.35 v-2.0 M355.54,1.5 v2.0 M366.50,227.35 v-2.0 M366.50,1.5 v2.0 M375.00,227.35 v-2.0 M375.00,1.5 v2.0 M381.94,227.35 v-2.0 M381.94,1.5 v2.0 M387.82,227.35 v-2.0 M387.82,1.5 v2.0 M392.90,227.35 v-2.0 M392.90,1.5 v2.0 M397.39,227.35 v-2.0 M397.39,1.5 v2.0 M401.40,227.35 v-3.8 M401.40,1.5 v3.8 M46.59,227.35 v-2 M46.59,1.5 v2 M43.5,227.45 h3.8 M408.5,227.45 h-3.8 M43.5,219.37 h2.0 M408.5,219.37 h-2.0 M43.5,211.29 h2.0 M408.5,211.29 h-2.0 M43.5,203.21 h2.0 M408.5,203.21 h-2.0 M43.5,195.13 h2.0 M408.5,195.13 h-2.0 M43.5,187.05 h3.8 M408.5,187.05 h-3.8 M43.5,178.97 h2.0 M408.5,178.97 h-2.0 M43.5,170.89 h2.0 M408.5,170.89 h-2.0 M43.5,162.81 h2.0 M408.5,162.81 h-2.0 M43.5,154.73 h2.0 M408.5,154.73 h-2.0 M43.5,146.65 h3.8 M408.5,146.65 h-3.8 M43.5,138.57 h2.0 M408.5,138.57 h-2.0 M43.5,130.49 h2.0 M408.5,130.49 h-2.0 M43.5,122.41 h2.0 M408.5,122.41 h-2.0 M43.5,114.33 h2.0 M408.5,114.33 h-2.0 M43.5,106.25 h3.8 M408.5,106.25 h-3.8 M43.5,98.17 h2.0 M408.5,98.17 h-2.0 M43.5,90.09 h2.0 M408.5,90.09 h-2.0 M43.5,82.01 h2.0 M408.5,82.01 h-2.0 M43.5,73.93 h2.0 M408.5,73.93 h-2.0 M43.5,65.85 h3.8 M408.5,65.85 h-3.8 M43.5,57.77 h2.0 M408.5,57.77 h-2.0 M43.5,49.69 h2.0 M408.5,49.69 h-2.0 M43.5,41.61 h2.0 M408.5,41.61 h-2.0 M43.5,33.53 h2.0 M408.5,33.53 h-2.0 M43.5,25.45 h3.8 M408.5,25.45 h-3.8 M43.5,17.37 h2.0 M408.5,17.37 h-2.0 M43.5,9.29 h2.0 M408.5,9.29 h-2.0" stroke-width="0.55" stroke="#787878"/>
</g>
<text class="tk" transform="translate(50.6,243.7) scale(1,1.07)" text-anchor="middle">0.01</text>
<text class="tk" transform="translate(138.3,243.7) scale(1,1.07)" text-anchor="middle">0.10</text>
<text class="tk" transform="translate(226.0,243.7) scale(1,1.07)" text-anchor="middle">1</text>
<text class="tk" transform="translate(313.7,243.7) scale(1,1.07)" text-anchor="middle">10</text>
<text class="tk" transform="translate(401.4,243.7) scale(1,1.07)" text-anchor="middle">100</text>
<text class="tk" transform="translate(41.3,233.4) scale(1,1.07)" text-anchor="end">0.0</text>
<text class="tk" transform="translate(41.3,193.0) scale(1,1.07)" text-anchor="end">0.5</text>
<text class="tk" transform="translate(41.3,152.6) scale(1,1.07)" text-anchor="end">1.0</text>
<text class="tk" transform="translate(41.3,112.2) scale(1,1.07)" text-anchor="end">1.5</text>
<text class="tk" transform="translate(41.3,71.8) scale(1,1.07)" text-anchor="end">2.0</text>
<text class="tk" transform="translate(41.3,31.4) scale(1,1.07)" text-anchor="end">2.5</text>
<g font-family="Liberation Serif" font-weight="bold" font-size="14.8px" fill="#000">
<path d="M193.5,260.0 L195.6,258.6 L199.9,268.0 L204.4,252.2 H216.0" fill="none" stroke="#000" stroke-width="1.4" stroke-linejoin="miter"/>
<path d="M195.2,258.9 L199.6,267.6" fill="none" stroke="#000" stroke-width="2.3"/>
<text transform="translate(207.5,267.1) scale(1.04,1.05)" font-style="italic" font-size="15.4px">s</text>
<text x="221.0" y="267.1" letter-spacing="0.75">[TeV]</text>
</g>
<g transform="translate(15.0,175.6) rotate(-90)" font-family="Liberation Serif" font-weight="bold" font-size="14.6px" fill="#000">
<path d="M0.90,2.9 V-10.3" stroke="#000" stroke-width="1.5" fill="none"/>
<text transform="translate(3.40,0.00) scale(1.6,1.08)" font-style="italic">t</text>
<text transform="translate(12.00,2.60) scale(1.3,1.1)" font-style="italic" font-size="10.8px">μ</text>
<text transform="translate(23.80,0.00) scale(1.2,1.0)" font-style="italic">T</text>
<text transform="translate(35.80,-6.40) scale(1.1,1.0)" font-style="italic" font-size="10.8px">μ</text>
<path d="M44.70,2.9 V-10.3" stroke="#000" stroke-width="1.5" fill="none"/>
<text transform="translate(51.20,0.00) scale(1.0,1.0)">or</text>
<path d="M69.90,2.9 V-10.3" stroke="#000" stroke-width="1.5" fill="none"/>
<text transform="translate(72.60,0.00) scale(1.0,1.0)" font-style="italic">u</text>
<text transform="translate(81.60,2.60) scale(1.2,1.1)" font-style="italic" font-size="10.8px">μ</text>
<text transform="translate(93.20,0.00) scale(1.1,1.0)" font-style="italic">U</text>
<text transform="translate(106.60,-6.40) scale(1.1,1.0)" font-style="italic" font-size="10.8px">μ</text>
<path d="M114.70,2.9 V-10.3" stroke="#000" stroke-width="1.5" fill="none"/>
</g>
<text transform="translate(354.4,187.2) scale(1,1.07)" font-family="Liberation Serif" font-weight="bold" font-size="15.5px" fill="#000"><tspan font-style="italic">x</tspan><tspan font-style="italic" font-size="11px" dy="3">H</tspan><tspan dy="-3" dx="1.6">=</tspan><tspan dx="0.9">2</tspan></text>
<rect x="46.8" y="9.4" width="259.8" height="83.6" rx="2.6" ry="2.6" fill="#fff" stroke="#c2c2c2" stroke-width="0.85"/>
<g fill="none" stroke-width="2.9">
<path d="M49.4,22.5 H70.2" stroke="#000"/>
<path d="M49.4,53.6 H70.2" stroke="#ff0000" stroke-dasharray="8.15 3.65"/>
<path d="M49.4,85.15 H70.2" stroke="#0000ff"/>
<path d="M182.8,22.5 H203.7" stroke="#00a800"/>
<path d="M182.8,53.6 H203.6" stroke="#b07028" stroke-dasharray="7.4 0.8 1.7 0.6 1.6 0.9" stroke-dashoffset="7.4"/>
<path d="M182.8,85.15 H203.7" stroke="#800080" stroke-dasharray="6.15 1.45"/>
</g>
<text class="lg" x="79.9" y="24.5"><tspan class="up">|</tspan>t<tspan class="mu" dy="1.4">μ</tspan><tspan dy="-1.4"> T</tspan><tspan class="mu" dy="-4.4" dx="0.7">μ</tspan><tspan class="sb" dy="5.7">LL</tspan><tspan class="up" dy="-1.3">|</tspan></text>
<text class="lg" x="79.9" y="55.6"><tspan class="up">|</tspan>t<tspan class="mu" dy="1.4">μ</tspan><tspan dy="-1.4"> T</tspan><tspan class="mu" dy="-4.4" dx="0.7">μ</tspan><tspan class="sb" dy="5.7">RR</tspan><tspan class="up" dy="-1.3">|</tspan></text>
<text class="lg" x="79.9" y="87.2"><tspan class="up">|</tspan>t<tspan class="mu" dy="1.4">μ</tspan><tspan dy="-1.4"> T</tspan><tspan class="mu" dy="-4.4" dx="0.7">μ</tspan><tspan class="sb" dy="5.7">LR</tspan><tspan class="up" dy="-1.3">|</tspan><tspan class="up">=</tspan><tspan class="up">|</tspan>t<tspan class="mu" dy="1.4">μ</tspan><tspan dy="-1.4"> T</tspan><tspan class="mu" dy="-4.4" dx="0.7">μ</tspan><tspan class="sb" dy="5.7">RL</tspan><tspan class="up" dy="-1.3">|</tspan></text>
<text class="lg" x="212.9" y="24.5"><tspan class="up">|</tspan>u<tspan class="mu" dy="1.4">μ</tspan><tspan dy="-1.4"> U</tspan><tspan class="mu" dy="-4.4" dx="0.7">μ</tspan><tspan class="sb" dy="5.7">LL</tspan><tspan class="up" dy="-1.3">|</tspan></text>
<text class="lg" x="212.9" y="55.6"><tspan class="up">|</tspan>u<tspan class="mu" dy="1.4">μ</tspan><tspan dy="-1.4"> U</tspan><tspan class="mu" dy="-4.4" dx="0.7">μ</tspan><tspan class="sb" dy="5.7">RR</tspan><tspan class="up" dy="-1.3">|</tspan></text>
<text class="lg" x="212.9" y="87.2"><tspan class="up">|</tspan>u<tspan class="mu" dy="1.4">μ</tspan><tspan dy="-1.4"> U</tspan><tspan class="mu" dy="-4.4" dx="0.7">μ</tspan><tspan class="sb" dy="5.7">LR</tspan><tspan class="up" dy="-1.3">|</tspan><tspan class="up">=</tspan><tspan class="up">|</tspan>u<tspan class="mu" dy="1.4">μ</tspan><tspan dy="-1.4"> U</tspan><tspan class="mu" dy="-4.4" dx="0.7">μ</tspan><tspan class="sb" dy="5.7">RL</tspan><tspan class="up" dy="-1.3">|</tspan></text>
</svg></body></html>
